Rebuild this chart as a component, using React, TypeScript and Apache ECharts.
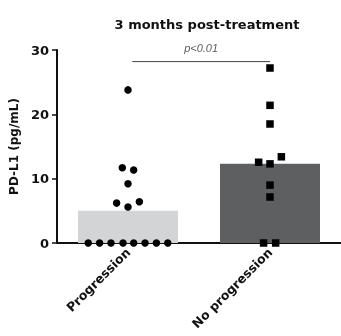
import React, { useEffect, useRef } from "react";
import * as echarts from "echarts";

const categories = ["Progression", "No progression"];
const barMeans = [5.0, 12.3];
const barColors = ["#d3d4d6", "#5e5f61"];
const yTicks = [0, 10, 20, 30];

// jitter offset (in category widths) and value for each point
const progressionOffsets = [-0.28, -0.2, -0.12, -0.035, 0.04, 0.12, 0.2, 0.28, 0, -0.04, 0.04, 0, -0.08, 0.08, 0];
const progressionValues = [0, 0, 0, 0, 0, 0, 0, 0, 23.8, 11.7, 11.35, 9.2, 6.2, 6.4, 5.6];
const noProgOffsets = [0, 0, 0, -0.08, 0, 0.08, 0, 0, -0.045, 0.04];
const noProgValues = [27.2, 21.4, 18.5, 12.55, 12.3, 13.4, 9.0, 7.15, 0, 0];

const sigLabel = "p<0.01";
const sigY = 28.2;
const sigFrom = 0.53;
const sigTo = 1.5;

const FONT = "DejaVu Sans, Verdana, sans-serif";
const FONT2 = "Liberation Sans, Arial, Helvetica, sans-serif";

export default function App() {
  const ref = useRef<HTMLDivElement>(null);
  useEffect(() => {
    const chart = echarts.init(ref.current!, undefined, { renderer: "svg" });
    chart.setOption({
      animation: false,
      title: {
        text: "3 months post-treatment",
        left: 202,
        textAlign: "center",
        top: 13,
        textStyle: { fontFamily: FONT, fontWeight: "bold", fontSize: 13, color: "#111" },
      },
      grid: { left: 54, right: -3, top: 50, bottom: 93 },
      xAxis: [
        {
          type: "category",
          data: categories,
          axisLine: { lineStyle: { color: "#111", width: 2 } },
          axisTick: { alignWithLabel: true, length: 3, lineStyle: { color: "#111", width: 1 } },
          axisLabel: {
            rotate: 45,
            fontFamily: FONT,
            fontWeight: "bold",
            fontSize: 12.5,
            color: "#111",
            margin: 7,
          },
        },
        { type: "value", min: 0, max: 2, show: false },
      ],
      yAxis: {
        type: "value",
        min: 0,
        max: 30,
        interval: 10,
        name: "PD-L1 (pg/mL)",
        nameLocation: "middle",
        nameGap: 32,
        nameTextStyle: { fontFamily: FONT, fontWeight: "bold", fontSize: 12, color: "#111" },
        axisLine: { show: true, lineStyle: { color: "#111", width: 2 } },
        axisTick: { show: true, length: 5, lineStyle: { color: "#111", width: 1.5 } },
        splitLine: { show: false },
        axisLabel: {
          fontFamily: FONT,
          fontWeight: "bold",
          fontSize: 13,
          color: "#111",
          margin: 8,
          formatter: (v: number) => (yTicks.includes(v) ? String(v) : ""),
        },
      },
      series: [
        {
          type: "bar",
          xAxisIndex: 0,
          barWidth: 100,
          data: barMeans.map((v, i) => ({ value: v, itemStyle: { color: barColors[i] } })),
          z: 1,
        },
        {
          type: "scatter",
          xAxisIndex: 1,
          symbol: "circle",
          symbolSize: 7.5,
          itemStyle: { color: "#000", opacity: 1 },
          data: progressionValues.map((v, i) => [0.5 + progressionOffsets[i], v]),
          z: 3,
        },
        {
          type: "scatter",
          xAxisIndex: 1,
          symbol: "rect",
          symbolSize: 7.5,
          itemStyle: { color: "#000", opacity: 1 },
          data: noProgValues.map((v, i) => [1.5 + noProgOffsets[i], v]),
          z: 3,
        },
        {
          type: "line",
          xAxisIndex: 1,
          symbol: "none",
          lineStyle: { color: "#444", width: 1 },
          data: [[sigFrom, sigY], [sigTo, sigY]],
          z: 2,
        },
        {
          type: "scatter",
          xAxisIndex: 1,
          symbolSize: 0,
          data: [[(sigFrom + sigTo) / 2, sigY]],
          label: {
            show: true,
            position: "top",
            distance: 8,
            formatter: sigLabel,
            fontFamily: FONT2,
            fontStyle: "italic",
            fontSize: 11,
            color: "#333",
          },
        },
      ],
    });
    return () => chart.dispose();
  }, []);
  return <div ref={ref} style={{ position: "fixed", left: 0, top: 0, width: 341, height: 336 }} />;
}
